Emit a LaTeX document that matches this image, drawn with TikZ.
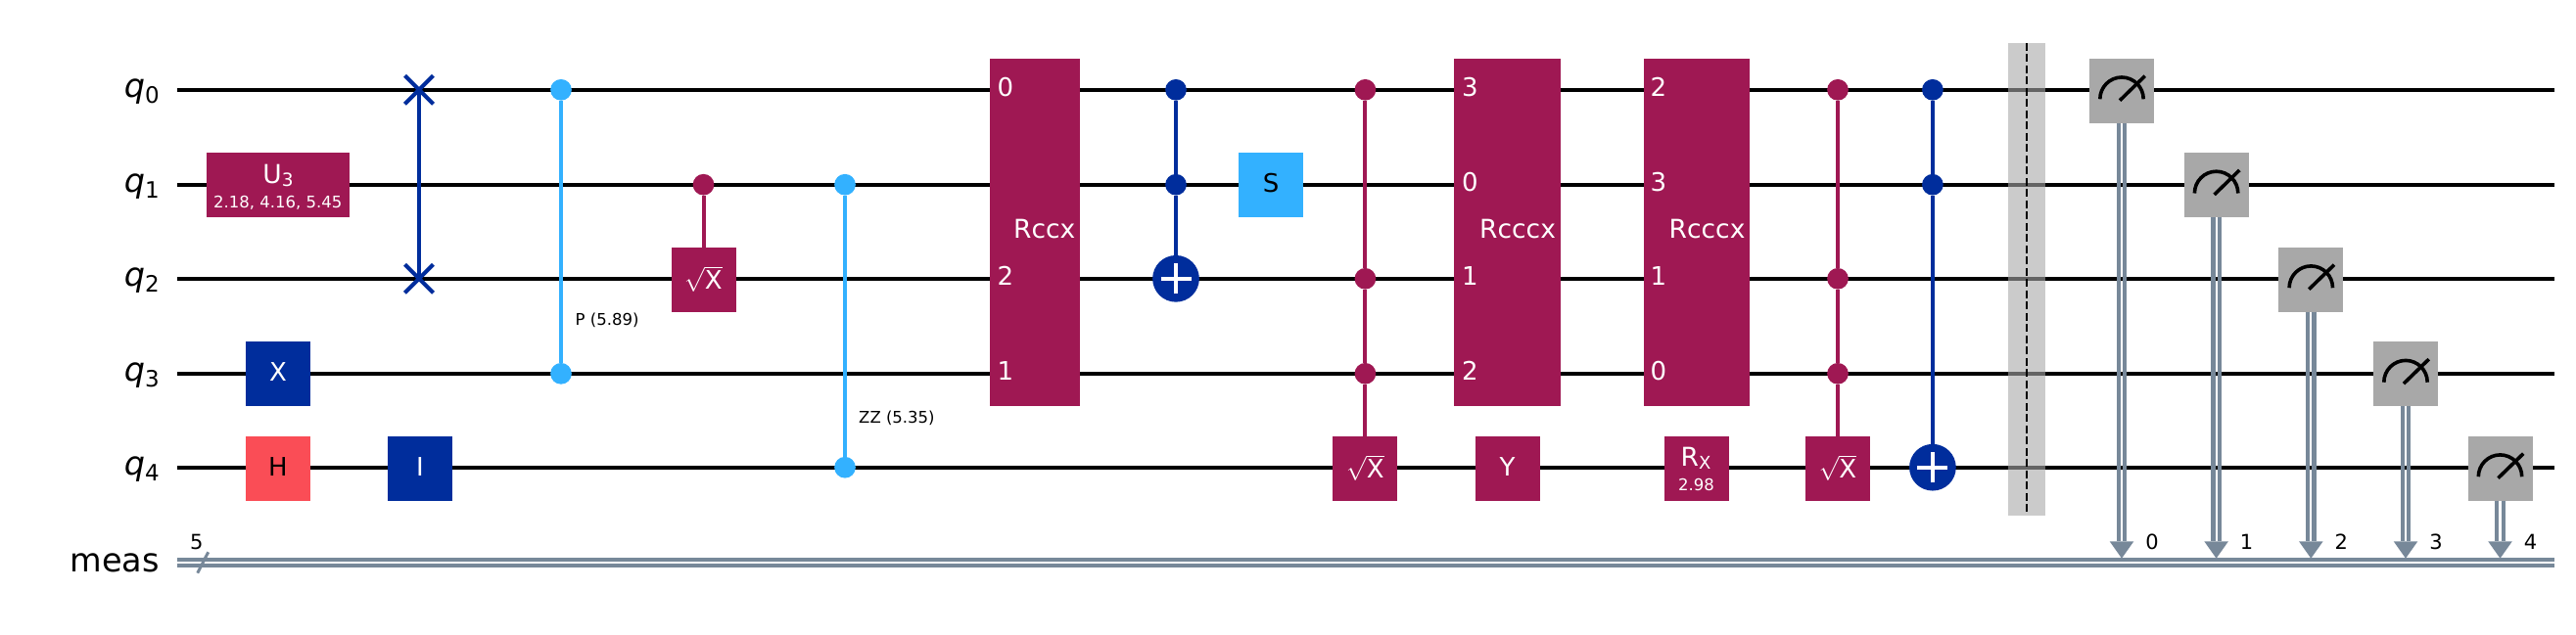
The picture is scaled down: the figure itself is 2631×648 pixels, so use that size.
\documentclass[tikz,border=0pt]{standalone}
\usepackage{fontspec}
\setmainfont{DejaVu Sans}
\usetikzlibrary{shapes.misc}
\definecolor{cpurple}{HTML}{9F1853}
\definecolor{cblue}{HTML}{002D9C}
\definecolor{clight}{HTML}{33B1FF}
\definecolor{cred}{HTML}{FA4D56}
\definecolor{cgray}{HTML}{A8A8A8}
\definecolor{cclass}{HTML}{778899}
\newcommand{\fs}[1]{\fontsize{#1}{#1}\selectfont}
\newcommand{\lowsub}[3]{\raisebox{-#1pt}{\fs{#2}#3}}
\newcommand{\sqx}{\raisebox{-2.7pt}{$\sqrt{\mbox{X}}$}}
\tikzset{
  x=1pt,y=-1pt,
  wire/.style={line width=4.2pt,black},
  cwire/.style={line width=4pt,cclass},
  gatebox/.style={rectangle,draw=none,fill=#1,inner sep=0pt,outer sep=0pt,minimum height=66pt,minimum width=66pt,
     text=white,font=\fs{26},text height=19pt,text depth=4.4pt},
  tallbox/.style={rectangle,draw=none,fill=cpurple,inner sep=0pt,outer sep=0pt,minimum height=354.7pt},
  ctrlnode/.style={circle,fill=#1,draw=none,inner sep=0pt,outer sep=0pt,minimum size=21.7pt},
  targetnode/.style={circle,fill=cblue,draw=none,inner sep=0pt,outer sep=0pt,minimum size=47.7pt},
  plusline/.style={white,line width=4.3pt},
  swapnode/.style={cross out,draw=cblue,line width=4pt,inner sep=0pt,outer sep=0pt,minimum size=29pt},
  conn/.style={line width=4pt,#1},
  wirelabel/.style={anchor=base east,font=\fs{33.5},inner sep=0pt},
  boxtext/.style={anchor=base,font=\fs{26.5},text=white,inner sep=0pt},
  boxnum/.style={anchor=base west,font=\fs{26},text=white,inner sep=0pt},
  smalltext/.style={anchor=base west,font=\fs{16.5},text=black,inner sep=0pt},
  paramtext/.style={anchor=base,font=\fs{16.5},text=white,inner sep=0pt},
  numtext/.style={anchor=base,font=\fs{21},text=black,inner sep=0pt},
  measbox/.style={rectangle,fill=cgray,draw=none,inner sep=0pt,outer sep=0pt,minimum width=66pt,minimum height=66pt},
  meter/.style={black,line width=3.6pt},
  cline/.style={cclass,line width=4.2pt},
}
\begin{document}
\begin{tikzpicture}
\useasboundingbox (0,0) rectangle (2631,648);
% wires
\foreach \i/\y in {0/91.8,1/188.7,2/284.8,3/381.8,4/477.7}{
  \coordinate (wl\i) at (181,\y);
  \coordinate (wr\i) at (2609,\y);
  \draw[wire] (wl\i) -- (wr\i);
  \node[wirelabel] (lab\i) at (163,\y+7.3) {\textit{q}\lowsub{6}{23}{\i}};
}
\coordinate (cl1) at (181,572.2);
\coordinate (cr1) at (2609,572.2);
\coordinate (cl2) at (181,577.8);
\coordinate (cr2) at (2609,577.8);
\draw[cwire] (cl1) -- (cr1);
\draw[cwire] (cl2) -- (cr2);
\node[wirelabel] (labm) at (163,584) {meas};
\coordinate (sa) at (212.7,564.3);
\coordinate (sb) at (201.7,585.7);
\draw[cclass,line width=3pt] (sa) -- (sb);
\node[numtext] (n5) at (200.7,561) {5};

% single gates
\node[gatebox=cpurple,minimum width=146pt] (u3) at (284,189) {};
\node[boxtext] (u3a) at (284,187) {U\lowsub{3}{18.5}{3}};
\node[paramtext] (u3b) at (283.7,212.7) {2.18, 4.16, 5.45};
\node[gatebox=cblue] (gx) at (284,382.2) {X};
\node[gatebox=cred,text=black] (gh) at (284,478.7) {H};
\node[gatebox=cblue] (gi) at (429,478.7) {I};

% swap
\node[swapnode] (s0) at (428,91.8) {};
\node[swapnode] (s2) at (428,284.8) {};
\draw[conn=cblue] (s0.center) -- (s2.center);

% P
\node[ctrlnode=clight] (p0) at (573,91.8) {};
\node[ctrlnode=clight] (p3) at (573,381.8) {};
\draw[conn=clight] (p0) -- (p3);
\node[smalltext] (plab) at (587.5,332.6) {P (5.89)};

% CSX
\node[ctrlnode=cpurple] (cs1) at (718.5,188.7) {};
\node[gatebox=cpurple] (cs2) at (718.5,285.7) {\sqx};
\draw[conn=cpurple] (cs1) -- (cs2);

% ZZ
\node[ctrlnode=clight] (z1) at (863,188.7) {};
\node[ctrlnode=clight] (z4) at (863,477.7) {};
\draw[conn=clight] (z1) -- (z4);
\node[smalltext] (zlab) at (877,432) {ZZ (5.35)};

% Rccx
\node[tallbox,minimum width=92pt] (r1) at (1057,237.35) {};
\node[boxtext] (r1t) at (1066.7,243.5) {Rccx};
\node[boxnum] (r1a) at (1018.3,98.7) {0};
\node[boxnum] (r1b) at (1018.3,291.7) {2};
\node[boxnum] (r1c) at (1018.3,388.7) {1};

% CCX
\node[ctrlnode=cblue] (t0) at (1201,91.8) {};
\node[ctrlnode=cblue] (t1) at (1201,188.7) {};
\node[targetnode] (t2) at (1201,284.8) {};
\draw[conn=cblue] (t0) -- (t1);
\draw[conn=cblue] (t1) -- (t2);
\draw[plusline] ([xshift=-15.5pt]t2.center) -- ([xshift=15.5pt]t2.center);
\draw[plusline] ([yshift=-15.5pt]t2.center) -- ([yshift=15.5pt]t2.center);

% S
\node[gatebox=clight,text=black] (gs) at (1298,189) {S};

% CCSX 1
\node[ctrlnode=cpurple] (a0) at (1394.4,91.8) {};
\node[ctrlnode=cpurple] (a2) at (1394.4,284.8) {};
\node[ctrlnode=cpurple] (a3) at (1394.4,381.8) {};
\node[gatebox=cpurple] (a4) at (1394.4,478.7) {\sqx};
\draw[conn=cpurple] (a0) -- (a2);
\draw[conn=cpurple] (a2) -- (a3);
\draw[conn=cpurple] (a3) -- (a4);

% Rcccx 1
\node[tallbox,minimum width=109pt] (r2) at (1539.5,237.35) {};
\node[boxtext] (r2t) at (1550,243.5) {Rcccx};
\node[boxnum] (r2a) at (1493,98.7) {3};
\node[boxnum] (r2b) at (1493,195.7) {0};
\node[boxnum] (r2c) at (1493,291.7) {1};
\node[boxnum] (r2d) at (1493,388.7) {2};
\node[gatebox=cpurple] (gy) at (1539.5,478.7) {Y};

% Rcccx 2
\node[tallbox,minimum width=108pt] (r3) at (1733,237.35) {};
\node[boxtext] (r3t) at (1743.5,243.5) {Rcccx};
\node[boxnum] (r3a) at (1685.5,98.7) {2};
\node[boxnum] (r3b) at (1685.5,195.7) {3};
\node[boxnum] (r3c) at (1685.5,291.7) {1};
\node[boxnum] (r3d) at (1685.5,388.7) {0};
\node[gatebox=cpurple] (grx) at (1733,478.7) {};
\node[boxtext] (grxa) at (1732,476.7) {R\lowsub{2.5}{18}{X}};
\node[paramtext] (grxb) at (1732.5,501.7) {2.98};

% CCSX 2
\node[ctrlnode=cpurple] (b0) at (1877,91.8) {};
\node[ctrlnode=cpurple] (b2) at (1877,284.8) {};
\node[ctrlnode=cpurple] (b3) at (1877,381.8) {};
\node[gatebox=cpurple] (b4) at (1877,478.7) {\sqx};
\draw[conn=cpurple] (b0) -- (b2);
\draw[conn=cpurple] (b2) -- (b3);
\draw[conn=cpurple] (b3) -- (b4);

% CCX 2
\node[ctrlnode=cblue] (d0) at (1973.9,91.8) {};
\node[ctrlnode=cblue] (d1) at (1973.9,188.7) {};
\node[targetnode] (d4) at (1973.9,477.7) {};
\draw[conn=cblue] (d0) -- (d1);
\draw[conn=cblue] (d1) -- (d4);
\draw[plusline] ([xshift=-15.5pt]d4.center) -- ([xshift=15.5pt]d4.center);
\draw[plusline] ([yshift=-15.5pt]d4.center) -- ([yshift=15.5pt]d4.center);

% barrier
\node[rectangle,fill=cgray,fill opacity=.6,draw=none,inner sep=0pt,minimum width=38pt,minimum height=482.5pt] (bar) at (2070,285.25) {};
\draw[black,line width=2pt,dash pattern=on 8pt off 3.5pt] (bar.north) -- (bar.south);

% measures
\foreach \i/\x/\y in {0/2167/92.8,1/2263.6/189,2/2360.3/285.7,3/2457/382.2,4/2553.5/478.7}{
  \node[measbox] (m\i) at (\x,\y) {};
  \coordinate (h\i) at (\x,553.3);
  \coordinate (e\i) at (\x,570.7);
  \draw[cline] ([xshift=-3.2pt]m\i.south) -- ([xshift=-3.2pt]h\i);
  \draw[cline] ([xshift=3.2pt]m\i.south) -- ([xshift=3.2pt]h\i);
  \fill[cclass] (e\i) -- ([xshift=-12.3pt]h\i) -- ([xshift=12.3pt]h\i) -- cycle;
  \draw[meter] ([shift={(-22.2pt,-8.5pt)}]m\i.center) arc[start angle=180,end angle=0,x radius=22.2pt,y radius=22.3pt];
  \draw[meter] ([shift={(-2pt,-9.9pt)}]m\i.center) -- ([shift={(23.7pt,15.1pt)}]m\i.center);
  \node[numtext] (mn\i) at (\x+31,561) {\i};
}
\end{tikzpicture}
\end{document}
